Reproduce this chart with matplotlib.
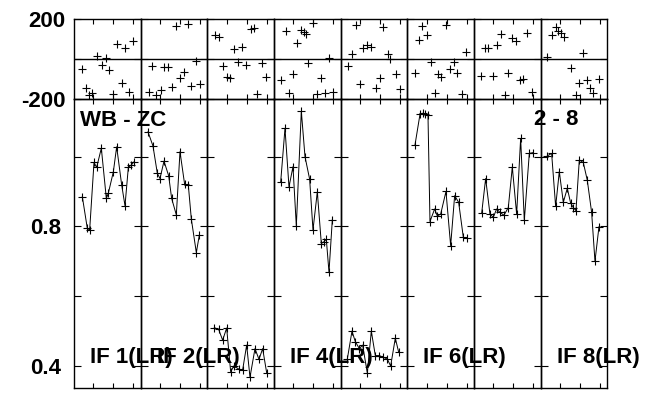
import matplotlib
matplotlib.use('Agg')
import matplotlib.pyplot as plt

plt.rcParams['font.family'] = ['Liberation Sans', 'DejaVu Sans']
plt.rcParams['font.weight'] = 'bold'

# baseline and IF labels
baseline = 'WB - ZC'
antennas = '2 - 8'
if_labels = ['IF 1(LR)', 'IF 2(LR)', '', 'IF 4(LR)', '', 'IF 6(LR)', '', 'IF 8(LR)']

# time within each IF panel (0-100) and amplitudes
amp_t = [
    [12.5, 20, 23.5, 30, 34, 41, 48.5, 51.5, 59, 64, 71.5, 76.5, 81.5, 86, 90],
    [11, 18.5, 25, 29, 35, 42, 46.5, 53.5, 59, 66, 71.5, 76, 83.5, 88],
    [10.5, 17, 23, 29, 35, 40, 47.5, 53, 59, 64, 71.5, 77.5, 83, 89],
    [10, 16.5, 22.5, 28.5, 33.5, 41, 46.5, 53.5, 58.5, 65, 71, 75, 78.5, 82.5, 87.5],
    [10, 17, 22, 28, 33, 40, 46, 52, 58, 64, 70, 75, 82, 87],
    [11.5, 19, 23, 26.5, 31, 34, 41, 45, 50, 58, 65, 71, 77, 84, 89],
    [11.5, 17.5, 24, 29, 34, 39, 45, 51.5, 57.5, 64, 70, 75.5, 83, 88],
    [10, 16.5, 22.5, 28, 34, 40, 45, 49, 53, 58, 64, 70, 76.5, 81.5, 87.5],
]
amp = [
    [0.885, 0.794, 0.790, 0.983, 0.969, 1.024, 0.880, 0.895, 0.956, 1.028, 0.919, 0.859, 0.969, 0.976, 0.985],
    [1.071, 1.030, 0.952, 0.937, 0.987, 0.945, 0.880, 0.833, 1.014, 0.920, 0.918, 0.821, 0.725, 0.775],
    [0.510, 0.505, 0.474, 0.509, 0.384, 0.400, 0.391, 0.389, 0.460, 0.368, 0.450, 0.419, 0.450, 0.381],
    [0.926, 1.081, 0.913, 0.971, 0.801, 1.130, 1.000, 0.935, 0.790, 0.899, 0.751, 0.756, 0.763, 0.669, 0.819],
    [0.420, 0.500, 0.470, 0.450, 0.460, 0.380, 0.500, 0.430, 0.430, 0.425, 0.420, 0.400, 0.480, 0.440],
    [1.033, 1.121, 1.124, 1.122, 1.119, 0.814, 0.850, 0.830, 0.835, 0.900, 0.745, 0.888, 0.869, 0.769, 0.766],
    [0.837, 0.937, 0.835, 0.826, 0.850, 0.840, 0.832, 0.854, 0.970, 0.835, 1.052, 0.817, 1.009, 1.011],
    [1.002, 1.009, 0.857, 0.957, 0.869, 0.909, 0.867, 0.854, 0.845, 0.990, 0.983, 0.932, 0.840, 0.700, 0.799],
]

# phases (degrees)
ph_t = [
    [12.5, 18.5, 22.5, 27.5, 35, 41.5, 47.5, 53, 59, 65, 71.5, 76.5, 82.5, 88.5],
    [12.5, 17.5, 23.5, 30, 35, 41.5, 46.5, 53.5, 59, 65, 71, 76, 82.5, 88.5],
    [11, 17.5, 23.5, 30, 33.5, 40, 46.5, 52.5, 58.5, 65, 70, 75, 81.5, 87.5],
    [11, 17.5, 22.5, 29, 35, 41, 45, 47.5, 51.5, 59, 64, 70, 76, 82.5, 88.5],
    [11.5, 17.5, 22.5, 29, 34, 40, 46, 52.5, 59, 64, 71, 74, 82.5, 88.5],
    [11.5, 17.5, 22.5, 29, 35, 41.5, 46, 50, 57.5, 63.5, 70, 75, 82.5, 87.5],
    [11, 16.5, 21, 28.5, 34, 41, 46.5, 51.5, 56.5, 62.5, 69, 74, 80, 87.5],
    [10, 16.5, 22.5, 26, 31, 35, 45, 52.5, 57.5, 63.5, 70, 74, 79, 87.5],
]
phase = [
    [-50, -142, -178, -170, 18, -28, 8, -53, -173, 75, -117, 58, -162, 88],
    [-165, -33, -178, -155, -37, -37, -137, 167, -95, -65, 175, -132, -8, -125],
    [118, 108, -33, -90, -95, 50, -12, 63, -28, 152, 155, -175, -17, -90],
    [-103, 138, -170, -73, 80, 147, 135, 125, -17, 178, -173, -95, -170, 5, -162],
    [-33, 25, 172, -123, 55, 68, 63, -145, -95, 158, 25, 0, -73, -148],
    [-67, 97, 167, 118, -12, -170, -75, -87, 172, -48, -12, -70, -173, 35],
    [-83, 55, 55, -83, 72, 125, -178, -70, 105, 92, -103, -100, 130, -165],
    [13, 118, 158, 142, 130, 108, -45, -178, -120, 33, -103, -142, -167, -100],
]

W, H = 645, 399
fig = plt.figure(figsize=(W / 100, H / 100), dpi=100)

left, right = 74, 607.3
col_w = (right - left) / 8
ph_top, mid, amp_bot = 19, 99.3, 387.7
fs = 16

for i in range(8):
    x0 = (left + i * col_w) / W
    axp = fig.add_axes([x0, 1 - mid / H, col_w / W, (mid - ph_top) / H])
    axa = fig.add_axes([x0, 1 - amp_bot / H, col_w / W, (amp_bot - mid) / H])

    axp.plot(ph_t[i], phase[i], '+', color='black', ms=6, mew=0.8)
    axp.axhline(0, color='black', lw=1)
    axp.set_ylim(-200, 200)
    axp.set_yticks([-200, 0, 200])

    axa.plot(amp_t[i], amp[i], '+-', color='black', ms=6, mew=0.8, lw=0.7)
    axa.set_ylim(0.338, 1.164)
    axa.set_yticks([0.4, 0.6, 0.8, 1.0])

    for ax in (axp, axa):
        ax.set_facecolor('none')
        ax.set_xlim(0, 100)
        ax.set_xticks([29, 59, 89])
        ax.set_xticklabels([])
        ax.tick_params(axis='x', direction='in', top=True, bottom=True, length=3.5, width=0.8)
        ax.tick_params(axis='y', direction='in', left=True, right=True, length=5, width=0.8,
                       labelsize=fs, pad=6 if ax is axp else 9)
        for s in ax.spines.values():
            s.set_linewidth(1)
        if i == 0:
            ax.set_yticklabels(['-200', '', '200'] if ax is axp else ['0.4', '', '0.8', ''])
        else:
            ax.set_yticklabels([])

# labels on top of all panels
for i, lab in enumerate(if_labels):
    if lab:
        fig.text((left + i * col_w + 16) / W, 1 - 358 / H, lab, fontsize=fs,
                 fontweight='bold', va='center', ha='left', zorder=10)

fig.text(80 / W, 1 - 120 / H, baseline, fontsize=fs, fontweight='bold', va='center', ha='left')
fig.text(556 / W, 1 - 119.7 / H, antennas, fontsize=fs, fontweight='bold', va='center', ha='center')

fig.savefig('out.png', dpi=100)
